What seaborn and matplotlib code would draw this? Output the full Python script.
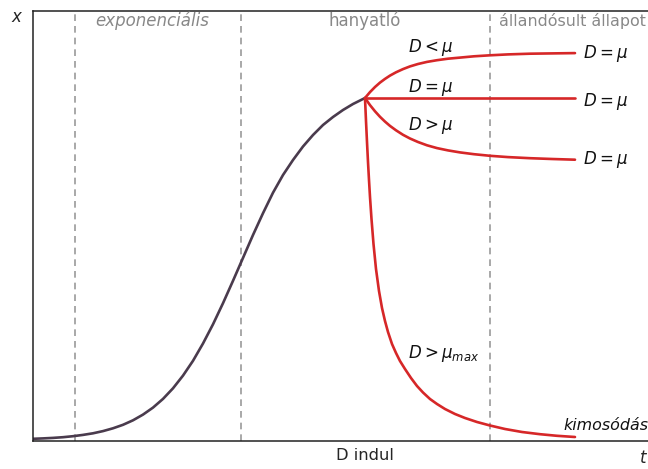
import matplotlib
matplotlib.use("Agg")
import matplotlib.pyplot as plt
import seaborn as sns
import pandas as pd

# Batch growth curve (time, biomass), schematic units
growth_t = [0.0, 0.2, 0.4, 0.6, 0.8, 1.0, 1.2, 1.4, 1.6, 1.8, 2.0, 2.2, 2.4, 2.6,
            2.8, 3.0, 3.2, 3.4, 3.6, 3.8, 4.0, 4.2, 4.4, 4.6, 4.8, 5.0, 5.2, 5.4,
            5.6, 5.8, 6.0, 6.2, 6.4, 6.64]
growth_x = [0.022, 0.026, 0.031, 0.038, 0.048, 0.061, 0.077, 0.099, 0.127, 0.162,
            0.207, 0.264, 0.334, 0.421, 0.527, 0.654, 0.802, 0.975, 1.167, 1.378,
            1.602, 1.831, 2.06, 2.278, 2.483, 2.66, 2.81, 2.945, 3.06, 3.16, 3.24,
            3.31, 3.37, 3.43]

# Continuous operation after the feed starts
branch_t = [6.64, 6.74, 6.84, 6.94, 7.04, 7.14, 7.26, 7.40, 7.54, 7.70, 7.88, 8.08,
            8.30, 8.54, 8.82, 9.14, 9.50, 9.94, 10.38, 10.84]
below_mu_x = [3.43, 3.489, 3.54, 3.584, 3.621, 3.654, 3.687, 3.719, 3.746, 3.77,
              3.791, 3.808, 3.823, 3.834, 3.847, 3.857, 3.866, 3.873, 3.876, 3.879]
equal_mu_x = [3.43] * len(branch_t)
above_mu_x = [3.43, 3.359, 3.297, 3.242, 3.194, 3.151, 3.107, 3.062, 3.025, 2.99,
              2.957, 2.929, 2.906, 2.886, 2.868, 2.852, 2.839, 2.828, 2.82, 2.813]

washout_t = [6.64, 6.66, 6.68, 6.70, 6.72, 6.74, 6.77, 6.81, 6.86, 6.92, 6.98, 7.04,
             7.10, 7.18, 7.26, 7.34, 7.44, 7.56, 7.68, 7.80, 7.94, 8.08, 8.24, 8.44,
             8.64, 8.88, 9.14, 9.44, 9.78, 10.14, 10.48, 10.84]
washout_x = [3.43, 3.20, 2.99, 2.79, 2.61, 2.44, 2.22, 1.97, 1.72, 1.50, 1.33, 1.20,
             1.09, 0.97, 0.88, 0.80, 0.72, 0.63, 0.55, 0.485, 0.42, 0.37, 0.32, 0.27,
             0.23, 0.19, 0.155, 0.12, 0.09, 0.068, 0.052, 0.04]

phase_bounds = [0.84, 4.16, 9.14]
feed_start = 6.64
phase_labels = ["exponenciális", "hanyatló", "állandósult állapot"]
branch_labels = [r"$D<\mu$", r"$D=\mu$", r"$D>\mu$"]
end_label = r"$D=\mu$"
washout_label = r"$D>\mu_{max}$"

sns.set_style("white")

fig = plt.figure(figsize=(6.48, 4.69), dpi=100)
ax = fig.add_axes([33 / 648, 28 / 469, 1 - 33 / 648, 430 / 469])

growth = pd.DataFrame({"t": growth_t, "x": growth_x})
sns.lineplot(data=growth, x="t", y="x", ax=ax, color="#4a3b4d", lw=1.9, sort=False)

red = "#d62728"
for ys in (below_mu_x, equal_mu_x, above_mu_x):
    df = pd.DataFrame({"t": branch_t, "x": ys})
    sns.lineplot(data=df, x="t", y="x", ax=ax, color=red, lw=1.9, sort=False)
wash = pd.DataFrame({"t": washout_t, "x": washout_x})
sns.lineplot(data=wash, x="t", y="x", ax=ax, color=red, lw=1.9, sort=False)

for b in phase_bounds:
    ax.axvline(b, color="#999999", lw=1.2, ls=(0, (4, 3)), zorder=0)

ax.set_xlim(0, 12.3)
ax.set_ylim(0, 4.3)
ax.set_xticks([feed_start])
ax.set_xticklabels(["D indul"], fontsize=11.7)
ax.set_yticks([])
ax.tick_params(axis="x", direction="inout", length=6, width=1, color="#333333", pad=2)
ax.set_xlabel("")
ax.set_ylabel("")
for side in ("left", "bottom", "top"):
    ax.spines[side].set_color("#222222")
    ax.spines[side].set_linewidth(1.1)
ax.spines["right"].set_visible(False)

fs = 12
gray = "#888888"
ax.text(2.38, 4.2, phase_labels[0], color=gray, fontsize=fs, style="italic",
        ha="center", va="center")
ax.text(feed_start, 4.2, phase_labels[1], color=gray, fontsize=fs,
        ha="center", va="center")
ax.text(9.32, 4.2, phase_labels[2], color=gray, fontsize=11.4,
        ha="left", va="center", clip_on=False)

for lab, y in zip(branch_labels, [3.94, 3.54, 3.15]):
    ax.text(7.5, y, lab, fontsize=fs, ha="left", va="center", color="#111111")
for y in [3.87, 3.39, 2.82]:
    ax.text(11.0, y, end_label, fontsize=fs, ha="left", va="center", color="#111111",
            clip_on=False)
ax.text(7.5, 0.88, washout_label, fontsize=fs, ha="left", va="center", color="#111111")
ax.text(10.6, 0.16, "kimosódás", fontsize=11.4, style="italic", ha="left", va="center",
        color="#111111", clip_on=False)

ax.text(-0.34, 4.24, "x", fontsize=fs, style="italic", ha="center", va="center",
        clip_on=False)
ax.text(12.2, -0.17, "t", fontsize=fs, style="italic", ha="center", va="center",
        clip_on=False)

fig.savefig("out.png", dpi=100)
